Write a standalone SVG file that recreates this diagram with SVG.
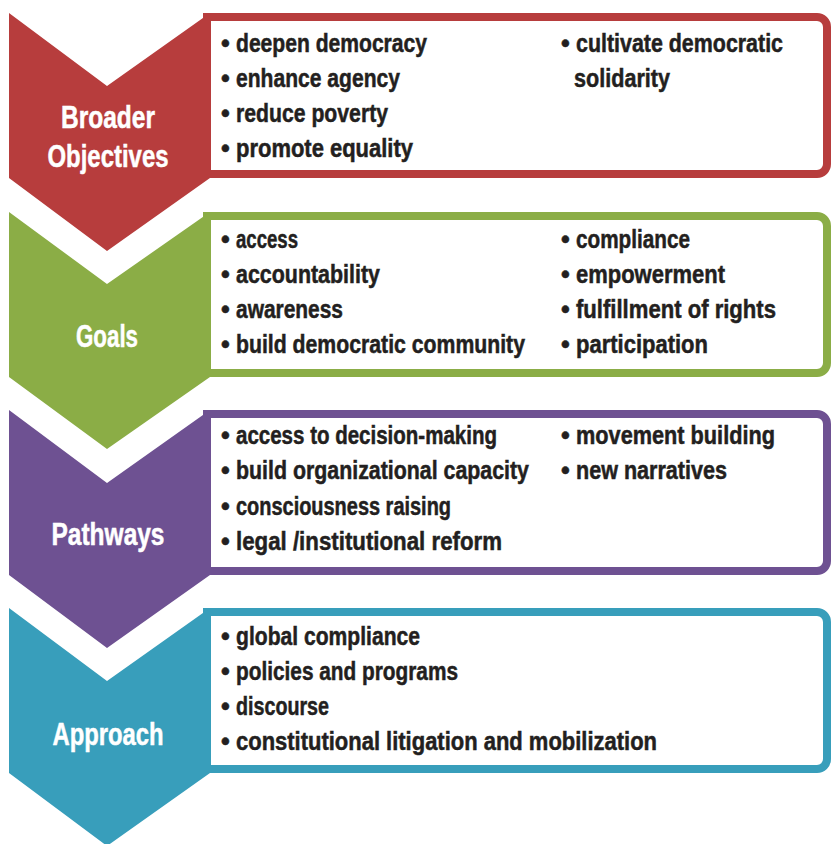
<svg xmlns="http://www.w3.org/2000/svg" width="832" height="844" viewBox="0 0 832 844">
  <style>
    .bg { fill: #ffffff; }
    .box { fill: #ffffff; stroke-width: 8; stroke-linejoin: miter; }
    .item { font-family: "Liberation Sans Narrow", "Liberation Sans", Arial, sans-serif; font-weight: bold; font-size: 25px; fill: #231f20; stroke: #231f20; stroke-width: 0.5; }
    .label { font-family: "Liberation Sans Narrow", "Liberation Sans", Arial, sans-serif; font-weight: bold; font-size: 31px; fill: #ffffff; stroke: #ffffff; stroke-width: 0.5; text-anchor: middle; }
    .red { fill: #b73d3d; } .redS { stroke: #b73d3d; }
    .green { fill: #8bad46; } .greenS { stroke: #8bad46; }
    .purple { fill: #6e5192; } .purpleS { stroke: #6e5192; }
    .teal { fill: #389ebb; } .tealS { stroke: #389ebb; }
  </style>
  <rect class="bg" x="0" y="0" width="832" height="844"/>

  <g id="broader-objectives">
    <path class="box redS" d="M207,17 H817 A10,10 0 0 1 827,27 V164 A10,10 0 0 1 817,174 H207 Z"/>
    <polygon class="red" points="9,13 107,86 210,13 210,178 107,251 9,178"/>
    <text class="label" x="108" y="128" textLength="94" lengthAdjust="spacingAndGlyphs">Broader</text>
    <text class="label" x="108" y="167" textLength="121" lengthAdjust="spacingAndGlyphs">Objectives</text>
    <text class="item" y="52"><tspan x="221">•</tspan><tspan x="236" textLength="191" lengthAdjust="spacingAndGlyphs">deepen democracy</tspan></text>
    <text class="item" y="87"><tspan x="221">•</tspan><tspan x="236" textLength="164" lengthAdjust="spacingAndGlyphs">enhance agency</tspan></text>
    <text class="item" y="122"><tspan x="221">•</tspan><tspan x="236" textLength="152" lengthAdjust="spacingAndGlyphs">reduce poverty</tspan></text>
    <text class="item" y="157"><tspan x="221">•</tspan><tspan x="236" textLength="177" lengthAdjust="spacingAndGlyphs">promote equality</tspan></text>
    <text class="item" y="52"><tspan x="561">•</tspan><tspan x="576" textLength="207" lengthAdjust="spacingAndGlyphs">cultivate democratic</tspan></text>
    <text class="item" x="574" y="87" textLength="96" lengthAdjust="spacingAndGlyphs">solidarity</text>
  </g>

  <g id="goals">
    <path class="box greenS" d="M207,216 H817 A10,10 0 0 1 827,226 V363 A10,10 0 0 1 817,373 H207 Z"/>
    <polygon class="green" points="9,212 107,284 210,212 210,377 107,449 9,377"/>
    <text class="label" x="107" y="347" textLength="62" lengthAdjust="spacingAndGlyphs">Goals</text>
    <text class="item" y="248"><tspan x="221">•</tspan><tspan x="236" textLength="62" lengthAdjust="spacingAndGlyphs">access</tspan></text>
    <text class="item" y="283"><tspan x="221">•</tspan><tspan x="236" textLength="144" lengthAdjust="spacingAndGlyphs">accountability</tspan></text>
    <text class="item" y="318"><tspan x="221">•</tspan><tspan x="236" textLength="107" lengthAdjust="spacingAndGlyphs">awareness</tspan></text>
    <text class="item" y="353"><tspan x="221">•</tspan><tspan x="236" textLength="289" lengthAdjust="spacingAndGlyphs">build democratic community</tspan></text>
    <text class="item" y="248"><tspan x="561">•</tspan><tspan x="576" textLength="114" lengthAdjust="spacingAndGlyphs">compliance</tspan></text>
    <text class="item" y="283"><tspan x="561">•</tspan><tspan x="576" textLength="149" lengthAdjust="spacingAndGlyphs">empowerment</tspan></text>
    <text class="item" y="318"><tspan x="561">•</tspan><tspan x="576" textLength="200" lengthAdjust="spacingAndGlyphs">fulfillment of rights</tspan></text>
    <text class="item" y="353"><tspan x="561">•</tspan><tspan x="576" textLength="132" lengthAdjust="spacingAndGlyphs">participation</tspan></text>
  </g>

  <g id="pathways">
    <path class="box purpleS" d="M207,414 H817 A10,10 0 0 1 827,424 V561 A10,10 0 0 1 817,571 H207 Z"/>
    <polygon class="purple" points="9,410 107,483 210,410 210,575 107,648 9,575"/>
    <text class="label" x="108" y="545" textLength="113" lengthAdjust="spacingAndGlyphs">Pathways</text>
    <text class="item" y="444"><tspan x="221">•</tspan><tspan x="236" textLength="261" lengthAdjust="spacingAndGlyphs">access to decision-making</tspan></text>
    <text class="item" y="479"><tspan x="221">•</tspan><tspan x="236" textLength="293" lengthAdjust="spacingAndGlyphs">build organizational capacity</tspan></text>
    <text class="item" y="515"><tspan x="221">•</tspan><tspan x="236" textLength="215" lengthAdjust="spacingAndGlyphs">consciousness raising</tspan></text>
    <text class="item" y="550"><tspan x="221">•</tspan><tspan x="236" textLength="266" lengthAdjust="spacingAndGlyphs">legal /institutional reform</tspan></text>
    <text class="item" y="444"><tspan x="561">•</tspan><tspan x="576" textLength="199" lengthAdjust="spacingAndGlyphs">movement building</tspan></text>
    <text class="item" y="479"><tspan x="561">•</tspan><tspan x="576" textLength="151" lengthAdjust="spacingAndGlyphs">new narratives</tspan></text>
  </g>

  <g id="approach">
    <path class="box tealS" d="M207,612 H817 A10,10 0 0 1 827,622 V759 A10,10 0 0 1 817,769 H207 Z"/>
    <polygon class="teal" points="9,608 107,681 210,608 210,773 107,846 9,773"/>
    <text class="label" x="108" y="745" textLength="111" lengthAdjust="spacingAndGlyphs">Approach</text>
    <text class="item" y="645"><tspan x="221">•</tspan><tspan x="236" textLength="184" lengthAdjust="spacingAndGlyphs">global compliance</tspan></text>
    <text class="item" y="680"><tspan x="221">•</tspan><tspan x="236" textLength="222" lengthAdjust="spacingAndGlyphs">policies and programs</tspan></text>
    <text class="item" y="715"><tspan x="221">•</tspan><tspan x="236" textLength="93" lengthAdjust="spacingAndGlyphs">discourse</tspan></text>
    <text class="item" y="750"><tspan x="221">•</tspan><tspan x="236" textLength="421" lengthAdjust="spacingAndGlyphs">constitutional litigation and mobilization</tspan></text>
  </g>
</svg>
